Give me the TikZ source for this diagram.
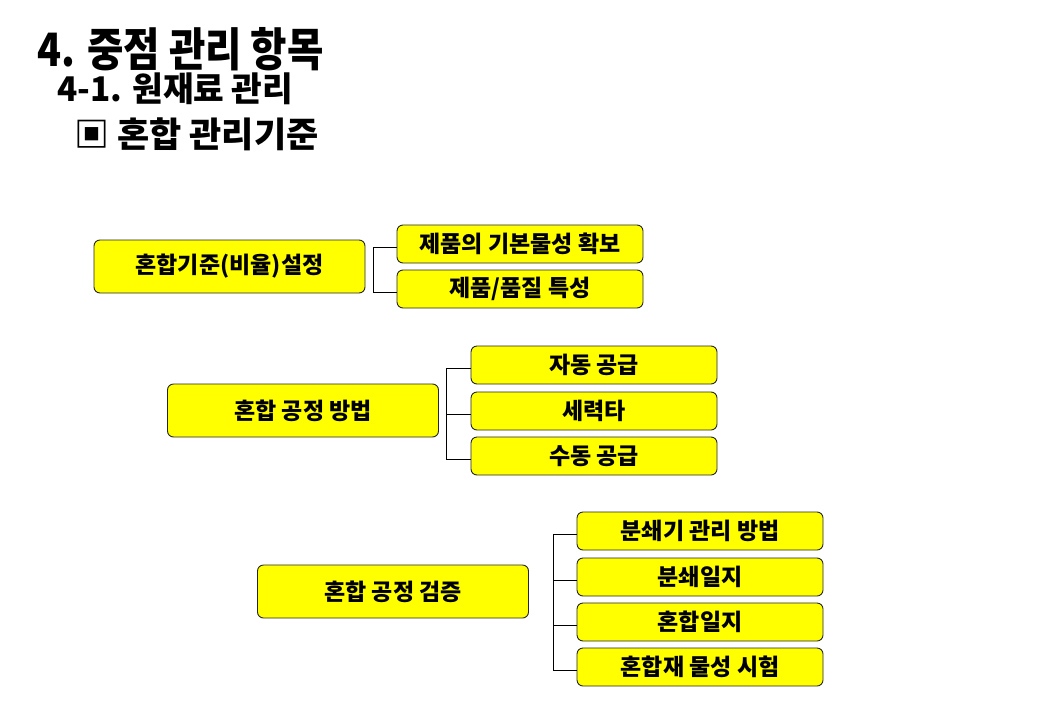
\documentclass[tikz,border=0pt]{standalone}
\usepackage{fontspec}
\setmainfont{Noto Sans CJK KR}
\definecolor{boxyellow}{RGB}{255,255,0}
\begin{document}
\begin{tikzpicture}[x=1pt,y=-1pt,
  box/.style={draw=black!85, line width=0.9pt, fill=boxyellow, rounded corners=6pt,
    minimum height=#1, inner sep=0pt, font=\bfseries\fontsize{23}{27}\selectfont},
  mainbox/.style={box=53pt, minimum width=271pt},
  subbox/.style={box=38pt, minimum width=246pt},
  link/.style={draw=black, line width=0.8pt},
  ttl/.style={anchor=west, inner sep=0pt, font=\bfseries}]
\useasboundingbox (0,0) rectangle (1040,720);
% titles
\node[ttl] (t1) at (37,49) {\scalebox{0.86}[1]{\fontsize{46}{52}\selectfont 4. 중점 관리 항목}};
\node[ttl] (t2) at (57,89) {\scalebox{0.98}[1]{\fontsize{34}{40}\selectfont 4-1. 원재료 관리}};
\node[ttl] (t3) at (74,134) {\scalebox{1.0}[1]{\fontsize{35}{40}\selectfont ▣ 혼합 관리기준}};
% group 1
\node[mainbox] (m1) at (229.5,266.5) {혼합기준(비율)설정};
\node[subbox] (a1) at (520,244) {제품의 기본물성 확보};
\node[subbox] (a2) at (520,289) {제품/품질 특성};
\coordinate (ab) at (373,0);
\draw[link] ([yshift=-3pt]a1.west) -- ([yshift=-3pt]a1.west -| ab) |- ([yshift=-3pt]a2.west);
% group 2
\node[mainbox] (m2) at (303,410.5) {혼합 공정 방법};
\node[subbox] (b1) at (594,365) {자동 공급};
\node[subbox] (b2) at (594,411) {세력타};
\node[subbox] (b3) at (594,456) {수동 공급};
\coordinate (bb) at (446,0);
\draw[link] ([yshift=-3pt]b1.west) -- ([yshift=-3pt]b1.west -| bb) |- ([yshift=-3pt]b3.west);
\draw[link] ([yshift=-3pt]b2.west) -- ([yshift=-3pt]b2.west -| bb);
% group 3
\node[mainbox] (m3) at (393,591.5) {혼합 공정 검증};
\node[subbox] (c1) at (700,531) {분쇄기 관리 방법};
\node[subbox] (c2) at (700,577) {분쇄일지};
\node[subbox] (c3) at (700,622) {혼합일지};
\node[subbox] (c4) at (700,667) {혼합재 물성 시험};
\coordinate (cb) at (553,0);
\draw[link] ([yshift=-3pt]c1.west) -- ([yshift=-3pt]c1.west -| cb) |- ([yshift=-3pt]c4.west);
\draw[link] ([yshift=-3pt]c2.west) -- ([yshift=-3pt]c2.west -| cb);
\draw[link] ([yshift=-3pt]c3.west) -- ([yshift=-3pt]c3.west -| cb);
\end{tikzpicture}
\end{document}
